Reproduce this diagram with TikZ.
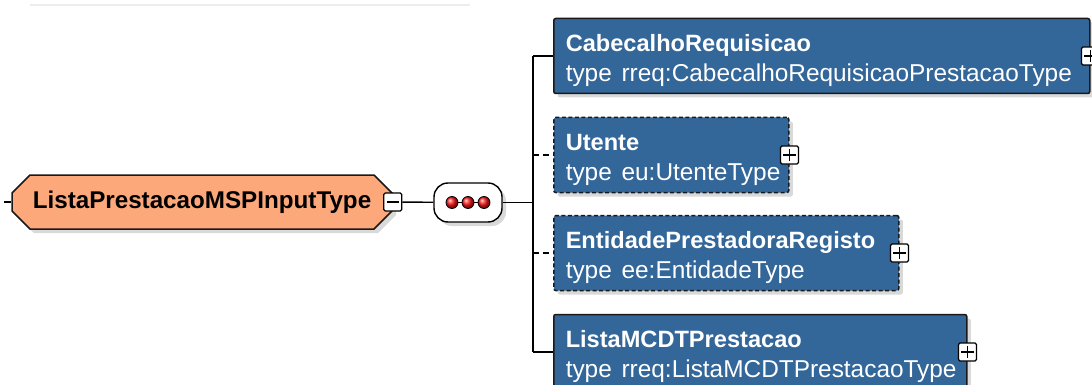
\documentclass[tikz,border=0pt]{standalone}
\usepackage{fontspec}
\setmainfont{Liberation Sans}
\usetikzlibrary{shapes.misc,shadows,positioning}
\definecolor{elemblue}{RGB}{51,102,153}
\definecolor{typeorange}{RGB}{252,168,122}
\def\minusmark(#1){\draw[line width=1.4pt] ([xshift=3.5pt]#1.west) -- ([xshift=-3.5pt]#1.east);}
\def\plusmark(#1){\minusmark(#1)\draw[line width=1.4pt] ([yshift=-3.5pt]#1.north) -- ([yshift=3.5pt]#1.south);}
\def\typeline#1{\mbox{\fontsize{24.4}{30}\selectfont type\hspace{0.4em}#1}}
\tikzset{
	boxfont/.style={font=\fontsize{23.6}{30}\selectfont},
	elem/.style={draw=black!90, line width=1.5pt, fill=elemblue, text=white, rounded corners=2pt, anchor=west, minimum height=75, inner xsep=12, inner ysep=0, align=left, boxfont, drop shadow={shadow xshift=4pt, shadow yshift=-4pt, opacity=0.3}},
	optelem/.style={elem, dash pattern=on 4pt off 2.5pt},
	expander/.style={draw, fill=white, line width=1.3pt, minimum size=18, inner sep=0, rounded corners=1.5pt},
	seqdot/.style={circle, draw, line width=0.8pt, shading=ball, ball color=red!90!white, minimum size=12, inner sep=0},
	wire/.style={line width=1.4pt},
	optwire/.style={wire, dash pattern=on 6pt off 4pt}
}
\begin{document}
\begin{tikzpicture}[x=1pt, y=1pt]
			%%%%% START %%%%%
			\useasboundingbox (0,0) rectangle (1092,-385);
			
			\draw[line width=2pt, color=black!7] (30,-5) -- (470,-5);
			
			% complex type and its sequence
			\node[chamfered rectangle, chamfered rectangle xsep=9pt, chamfered rectangle ysep=9pt, draw=black!90, line width=1.5pt, fill=typeorange, minimum width=380, minimum height=54, inner sep=0, font=\fontsize{24.2}{30}\selectfont, drop shadow={shadow xshift=4pt, shadow yshift=-4pt, opacity=0.3}] (main) at (202,-202) {\textbf{ListaPrestacaoMSPInputType}};
			\coordinate (in) at (4,-202);
			\node[expander] (mainx) at (main.east) {};
			\minusmark(mainx)
			
			\node[draw, line width=1.4pt, fill=white, rounded corners=14pt, minimum width=68, minimum height=39, drop shadow={shadow xshift=4pt, shadow yshift=-4pt, opacity=0.3}] (seq) at (468,-202.5) {};
			\node[seqdot] (dot1) at (452,-202.5) {};
			\node[seqdot] (dot2) at (468,-202.5) {};
			\node[seqdot] (dot3) at (484,-202.5) {};
			\draw[line width=1.3pt] (dot1.east) -- (dot2.west) (dot2.east) -- (dot3.west);
			\coordinate (fork) at (533,-202.5);
			
			% child elements
			\node[elem, text width=512] (cab) at (553,-56) {\rule{0pt}{27pt}\textbf{CabecalhoRequisicao}\\\typeline{rreq:CabecalhoRequisicaoPrestacaoType}};
			\node[optelem, text width=211] (ute) at (553,-155) {\rule{0pt}{27pt}\textbf{Utente}\\\typeline{eu:UtenteType}};
			\node[optelem, text width=321] (ent) at (553,-253) {\rule{0pt}{27pt}\textbf{EntidadePrestadoraRegisto}\\\typeline{ee:EntidadeType}};
			\node[elem, text width=389] (lmcdt) at (553,-352) {\rule{0pt}{27pt}\textbf{ListaMCDTPrestacao}\\\typeline{rreq:ListaMCDTPrestacaoType}};
			
			\node[expander] (cabx) at (cab.east) {};
			\node[expander] (utex) at (ute.east) {};
			\node[expander] (entx) at (ent.east) {};
			\node[expander] (lmcdtx) at (lmcdt.east) {};
			\plusmark(cabx)
			\plusmark(utex)
			\plusmark(entx)
			\plusmark(lmcdtx)
			
			% connectors
			\draw[wire] (in) -- (main.west);
			\draw[wire] (mainx) -- (seq);
			\draw[wire] (seq) -- (fork);
			\draw[wire] (fork |- cab.west) -- (fork |- lmcdt.west);
			\draw[wire] (fork |- cab.west) -- (cab.west);
			\draw[optwire] (fork |- ute.west) -- (ute.west);
			\draw[optwire] (fork |- ent.west) -- (ent.west);
			\draw[wire] (fork |- lmcdt.west) -- (lmcdt.west);
			%%%%% END %%%%%
\end{tikzpicture}
\end{document}
